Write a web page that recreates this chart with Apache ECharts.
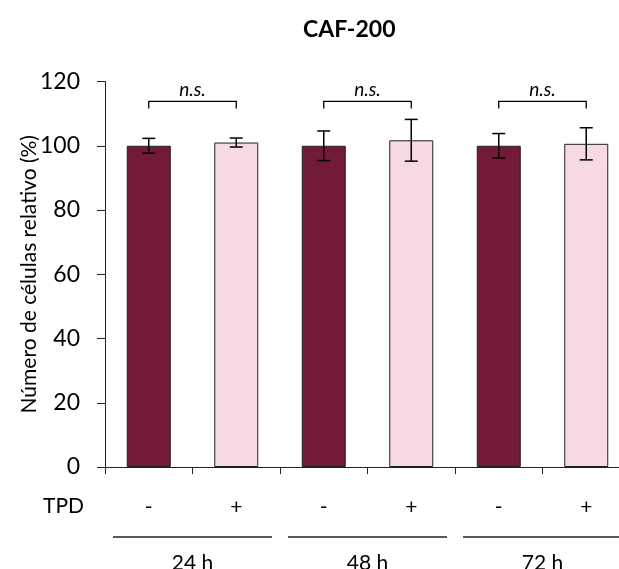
<!DOCTYPE html>
<html><head><meta charset="utf-8">
<script src="https://cdn.jsdelivr.net/npm/echarts@6/dist/echarts.min.js"></script>
<style>html,body{margin:0;padding:0;background:#fff}#c{width:619px;height:569px}</style>
</head><body><div id="c"></div>
<script>
// ---- data ----
const categories = ['-', '+', '-', '+', '-', '+'];
const groups = ['24 h', '48 h', '72 h'];
const means = [100, 101.0, 100, 101.7, 100, 100.6];
const errors = [2.3, 1.4, 4.6, 6.5, 3.8, 5.0];
const yTicks = [0, 20, 40, 60, 80, 100, 120];
const bracketPairs = [[0, 1], [2, 3], [4, 5]];
const bracketLabels = ['n.s.', 'n.s.', 'n.s.'];
const bracketTop = 113.8;
const bracketBottom = 111.6;

const FONT = 'Lato';
const dark = '#721a36', light = '#f7d9e3';

const chart = echarts.init(document.getElementById('c'));
chart.setOption({
  animation: false,
  title: {
    text: 'CAF-200', left: 298, top: 13,
    textStyle: { fontFamily: FONT, fontWeight: 'bold', fontSize: 23, color: '#000' }
  },
  grid: { left: 105, width: 525, top: 81.5, bottom: 102, containLabel: false, outerBoundsMode: 'none' },
  xAxis: {
    type: 'category', data: categories,
    axisLine: { lineStyle: { color: '#222', width: 1 } },
    axisTick: { show: true, length: 7, lineStyle: { color: '#222' } },
    axisLabel: { fontFamily: FONT, fontSize: 21, color: '#000', margin: 30 }
  },
  yAxis: {
    type: 'value', min: yTicks[0], max: yTicks[yTicks.length - 1], interval: 20,
    axisLine: { show: true, lineStyle: { color: '#222', width: 1 } },
    axisTick: { show: true, length: 8, lineStyle: { color: '#222' } },
    splitLine: { show: false },
    axisLabel: { fontFamily: FONT, fontSize: 23, color: '#000', margin: 25 },
    name: 'Número de células relativo (%)', nameLocation: 'middle', nameGap: 65,
    nameMoveOverlap: false,
    nameTextStyle: { fontFamily: FONT, fontSize: 21, color: '#000' }
  },
  graphic: [{
    type: 'text', left: 43, top: 496,
    style: { text: 'TPD', font: '21px ' + FONT, fill: '#000' }
  }],
  series: [
    {
      type: 'bar', barWidth: 44,
      data: means.map((v, i) => ({ value: v, itemStyle: { color: i % 2 ? light : dark } })),
      itemStyle: { borderColor: '#222', borderWidth: 1 }
    },
    {
      type: 'custom', z: 5,
      data: means.map((m, i) => [i, m - errors[i], m + errors[i]]),
      renderItem: function (params, api) {
        const lo = api.coord([api.value(0), api.value(1)]);
        const hi = api.coord([api.value(0), api.value(2)]);
        const w = 6.5;
        const st = { stroke: '#000', lineWidth: 1.5 };
        return { type: 'group', children: [
          { type: 'line', shape: { x1: lo[0], y1: lo[1], x2: hi[0], y2: hi[1] }, style: st },
          { type: 'line', shape: { x1: lo[0] - w, y1: lo[1], x2: lo[0] + w, y2: lo[1] }, style: st },
          { type: 'line', shape: { x1: hi[0] - w, y1: hi[1], x2: hi[0] + w, y2: hi[1] }, style: st }
        ]};
      }
    },
    {
      type: 'custom', z: 5,
      data: bracketPairs.map((p, i) => [p[0], p[1], bracketTop, bracketBottom, i]),
      renderItem: function (params, api) {
        const a = api.coord([api.value(0), api.value(2)]);
        const b = api.coord([api.value(1), api.value(2)]);
        const d = api.coord([api.value(0), api.value(3)]);
        const st = { stroke: '#000', lineWidth: 1.3, fill: null };
        return { type: 'group', children: [
          { type: 'polyline', shape: { points: [[a[0], d[1]], [a[0], a[1]], [b[0], b[1]], [b[0], d[1]]] }, style: st },
          { type: 'text', x: (a[0] + b[0]) / 2, y: a[1] - 2,
            style: { text: bracketLabels[api.value(4)], font: 'italic 19px ' + FONT, fill: '#000', align: 'center', verticalAlign: 'bottom' } }
        ]};
      }
    },
    {
      type: 'custom', z: 5, clip: false,
      data: groups.map((g, i) => [2 * i, 2 * i + 1, i]),
      renderItem: function (params, api) {
        const a = api.coord([api.value(0), 0]);
        const b = api.coord([api.value(1), 0]);
        const half = (b[0] - a[0]) / 2;
        const y = a[1] + 70;
        return { type: 'group', children: [
          { type: 'line', shape: { x1: a[0] - half + 8, y1: y, x2: b[0] + half - 8, y2: y }, style: { stroke: '#222', lineWidth: 1.3 } },
          { type: 'text', x: (a[0] + b[0]) / 2, y: y + 16,
            style: { text: groups[api.value(2)], font: '21px ' + FONT, fill: '#000', align: 'center', verticalAlign: 'top' } }
        ]};
      }
    }
  ]
});
</script></body></html>
